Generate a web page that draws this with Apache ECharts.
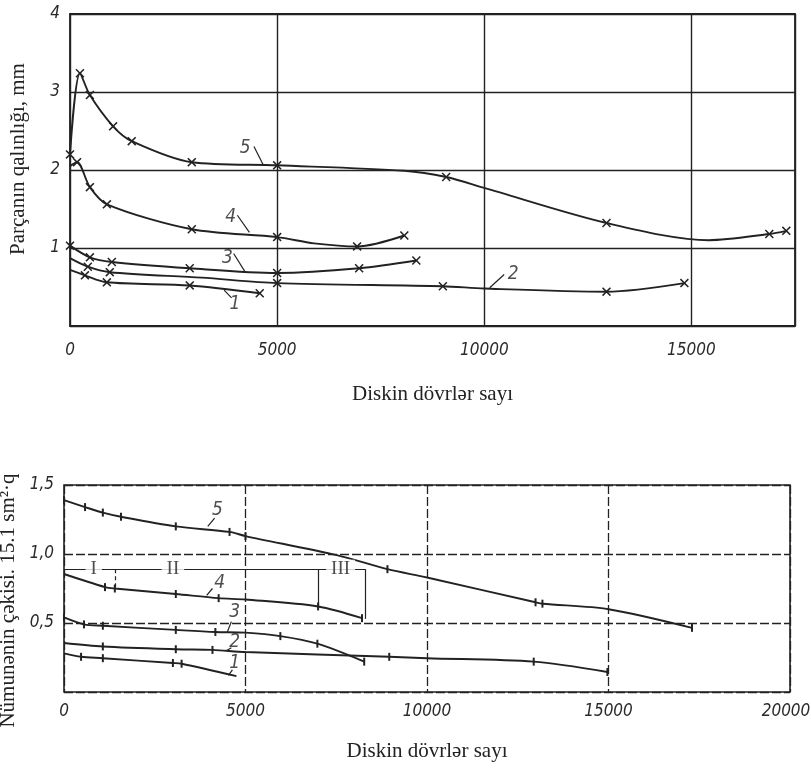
<!DOCTYPE html>
<html><head><meta charset="utf-8">
<script src="https://cdn.jsdelivr.net/npm/echarts@6/dist/echarts.min.js"></script>
<style>html,body{margin:0;padding:0;background:#fff}#c{width:811px;height:774px}</style>
</head><body><div id="c"></div>
<script>
// ---------- Top panel data (Parçanın qalınlığı, mm) ----------
const top5X = [0, 240, 480, 1040, 1490, 2940, 5000, 8070, 9080, 10000, 12950, 15420, 16880, 17290];
const top5Y = [2.2, 3.24, 2.96, 2.56, 2.37, 2.10, 2.06, 1.99, 1.91, 1.77, 1.32, 1.10, 1.18, 1.22];
const top5M = [1, 1, 1, 1, 1, 1, 1, 0, 1, 0, 1, 0, 1, 1];
const top4X = [0, 170, 480, 890, 2940, 5000, 5890, 6930, 8070];
const top4Y = [2.05, 2.1, 1.78, 1.56, 1.24, 1.14, 1.06, 1.02, 1.16];
const top4M = [0, 1, 1, 1, 1, 1, 0, 1, 1];
const top3X = [0, 480, 1010, 2890, 5000, 6980, 8360];
const top3Y = [1.03, 0.88, 0.82, 0.74, 0.68, 0.74, 0.84];
const top3M = [1, 1, 1, 1, 1, 1, 1];
const top2X = [0, 430, 960, 3180, 5000, 9000, 10000, 12950, 14830];
const top2Y = [0.87, 0.76, 0.69, 0.62, 0.55, 0.51, 0.48, 0.44, 0.55];
const top2M = [0, 1, 1, 0, 1, 1, 0, 1, 1];
const top1X = [0, 360, 890, 2890, 4580];
const top1Y = [0.72, 0.65, 0.56, 0.52, 0.42];
const top1M = [0, 1, 1, 1, 1];
const topXTicks = ['0', '5000', '10000', '15000'];
const topYTicks = ['1', '2', '3', '4'];
// curve number labels: [x, y, text] and leader [x1,y1,x2,y2]
const topLabels = [[4230, 2.28, '5'], [3880, 1.40, '4'], [3800, 0.87, '3'], [10700, 0.66, '2'], [3980, 0.28, '1']];
const topLeaders = [[4440, 2.30, 4660, 2.07], [4040, 1.42, 4330, 1.20], [3950, 0.93, 4230, 0.69], [10480, 0.66, 10130, 0.49], [3900, 0.36, 3720, 0.46]];

// ---------- Bottom panel data (Nümunənin çəkisi) ----------
const bot5X = [0, 580, 1070, 1570, 3080, 4560, 5000, 7540, 8910, 10000, 12990, 13180, 15000, 17300];
const bot5Y = [1.39, 1.34, 1.30, 1.27, 1.20, 1.16, 1.13, 0.99, 0.89, 0.83, 0.65, 0.64, 0.60, 0.465];
const bot5M = [1, 1, 1, 1, 1, 1, 1, 0, 1, 0, 1, 1, 0, 1];
const bot4X = [0, 1130, 1400, 3080, 4260, 5000, 7000, 8210];
const bot4Y = [0.855, 0.76, 0.75, 0.71, 0.68, 0.67, 0.62, 0.535];
const bot4M = [0, 1, 1, 1, 1, 0, 1, 1];
const bot3X = [0, 550, 1070, 3080, 4170, 5000, 5960, 6980, 8270];
const bot3Y = [0.54, 0.49, 0.48, 0.45, 0.435, 0.43, 0.405, 0.35, 0.22];
const bot3M = [1, 1, 1, 1, 1, 0, 1, 1, 1];
const bot2X = [0, 1070, 3080, 4090, 5000, 8960, 10000, 12940, 14970];
const bot2Y = [0.355, 0.33, 0.31, 0.305, 0.29, 0.255, 0.245, 0.22, 0.145];
const bot2M = [0, 1, 1, 1, 0, 1, 0, 1, 1];
const bot1X = [0, 470, 1070, 3000, 3240, 4750];
const bot1Y = [0.28, 0.255, 0.245, 0.21, 0.205, 0.115];
const bot1M = [0, 1, 1, 1, 1, 0];
const botXTicks = ['0', '5000', '10000', '15000', '20000'];
const botYTicks = ['0,5', '1,0', '1,5'];
const botLabels = [[4230, 1.32, '5'], [4290, 0.79, '4'], [4700, 0.58, '3'], [4700, 0.36, '2'], [4700, 0.21, '1']];
const botLeaders = [[4150, 1.26, 3960, 1.20], [4090, 0.75, 3930, 0.70], [4610, 0.51, 4500, 0.435], [4610, 0.32, 4480, 0.30], [4640, 0.16, 4530, 0.12]];
// stage brackets I, II, III
const stageY = 0.89;
const stageEndX = 8300;
const stageLabelX = [820, 3000, 7620];
const stageLabels = ['I', 'II', 'III'];
const stageDivX = [1400, 7000, 8300];
const stageDivY = [0.75, 0.62, 0.53];

// ---------- chart ----------
const INK = '#222';
const SYM_X = 'path://M0,1.2L1.2,0L5,3.8L8.8,0L10,1.2L6.2,5L10,8.8L8.8,10L5,6.2L1.2,10L0,8.8L3.8,5Z';
const SYM_T = 'path://M0,0H2V10H0Z';
const tickFont = {fontFamily: 'DejaVu Sans Condensed', fontStyle: 'italic', fontSize: 17, color: '#2a2a2a'};
const titleFont = {fontFamily: 'Liberation Serif', fontSize: 21, color: '#222'};

function mk(xs, ys, ms, sym) {
  return xs.map((x, i) => ({value: [x, ys[i]], symbol: ms[i] ? sym : 'none'}));
}
function curve(xs, ys, ms, sym, size, ai, leader) {
  return {
    type: 'line', xAxisIndex: ai, yAxisIndex: ai, smooth: 0.3,
    data: mk(xs, ys, ms, sym), symbolSize: size, symbolKeepAspect: false,
    itemStyle: {color: INK}, lineStyle: {color: INK, width: 1.9}, silent: true,
    markLine: {symbol: 'none', silent: true, label: {show: false},
      lineStyle: {color: INK, width: 1.2, type: 'solid'},
      data: [[{coord: [leader[0], leader[1]]}, {coord: [leader[2], leader[3]]}]]}
  };
}
function labelSeries(list, ai) {
  return {
    type: 'scatter', xAxisIndex: ai, yAxisIndex: ai, symbolSize: 0, silent: true,
    data: list.map(l => ({value: [l[0], l[1]], name: l[2]})),
    label: {show: true, position: 'inside', formatter: '{b}', fontFamily: 'DejaVu Sans Condensed',
      fontStyle: 'italic', fontSize: 19, color: '#222'}
  };
}

const topCurves = [[top5X, top5Y, top5M], [top4X, top4Y, top4M], [top3X, top3Y, top3M], [top2X, top2Y, top2M], [top1X, top1Y, top1M]];
const botCurves = [[bot5X, bot5Y, bot5M], [bot4X, bot4Y, bot4M], [bot3X, bot3Y, bot3M], [bot2X, bot2Y, bot2M], [bot1X, bot1Y, bot1M]];

const series = [];
topCurves.forEach((c, i) => series.push(curve(c[0], c[1], c[2], SYM_X, 9, 0, topLeaders[i])));
botCurves.forEach((c, i) => series.push(curve(c[0], c[1], c[2], SYM_T, [2, 8], 1, botLeaders[i])));
series.push(labelSeries(topLabels, 0));
series.push(labelSeries(botLabels, 1));

// stage bracket lines
const bracketLines = [[{coord: [0, stageY]}, {coord: [stageEndX, stageY]}]];
stageDivX.forEach((x, i) => bracketLines.push([{coord: [x, stageY]}, {coord: [x, stageDivY[i]], lineStyle: {type: i === 0 ? [4, 3] : 'solid'}}]));
series.push({
  type: 'scatter', xAxisIndex: 1, yAxisIndex: 1, symbolSize: 0, silent: true, z: 5,
  data: stageLabelX.map((x, i) => ({value: [x, stageY], name: stageLabels[i]})),
  label: {show: true, position: 'inside', formatter: '{b}', fontFamily: 'Liberation Serif',
    fontSize: 19, color: '#222', backgroundColor: '#fff', padding: [0, 5]},
  markLine: {symbol: 'none', silent: true, label: {show: false},
    lineStyle: {color: INK, width: 1.2, type: 'solid'}, data: bracketLines}
});

const chart = echarts.init(document.getElementById('c'), null, {renderer: 'canvas'});
chart.setOption({
  animation: false,
  backgroundColor: '#fff',
  grid: [
    {left: 70, top: 14, width: 725, height: 312, show: true, borderColor: INK, borderWidth: 1.8, backgroundColor: 'transparent', containLabel: false, outerBoundsMode: 'none'},
    {left: 64, top: 485, width: 726, height: 207, show: true, borderColor: INK, borderWidth: 1.6, backgroundColor: 'transparent', containLabel: false, outerBoundsMode: 'none'}
  ],
  xAxis: [
    {type: 'value', gridIndex: 0, min: 0, max: 17500, interval: 5000,
     axisLine: {show: false}, axisTick: {show: false},
     splitLine: {show: true, lineStyle: {color: INK, width: 1.4}},
     axisLabel: Object.assign({margin: 16, showMaxLabel: false, formatter: (v) => topXTicks[Math.round(v / 5000)] || ''}, tickFont),
     name: 'Diskin dövrlər sayı', nameLocation: 'middle', nameGap: 58, nameTextStyle: titleFont},
    {type: 'value', gridIndex: 1, min: 0, max: 20000, interval: 5000,
     axisLine: {show: false}, axisTick: {show: false},
     splitLine: {show: true, lineStyle: {color: INK, width: 1.3, type: [9, 3]}},
     axisLabel: Object.assign({margin: 11,
       formatter: (v) => { const i = Math.round(v / 5000); return i === botXTicks.length - 1 ? '{r|' + botXTicks[i] + '}' : (botXTicks[i] || ''); },
       rich: {r: {padding: [0, 8, 0, 0], fontFamily: 'DejaVu Sans Condensed', fontStyle: 'italic', fontSize: 17, color: '#2a2a2a'}}}, tickFont),
     name: 'Diskin dövrlər sayı', nameLocation: 'middle', nameGap: 49, nameTextStyle: titleFont}
  ],
  yAxis: [
    {type: 'value', gridIndex: 0, min: 0, max: 4, interval: 1,
     axisLine: {show: false}, axisTick: {show: false},
     splitLine: {show: true, lineStyle: {color: INK, width: 1.4}},
     axisLabel: Object.assign({margin: 10, showMinLabel: false, formatter: (v) => topYTicks[Math.round(v) - 1] || ''}, tickFont),
     name: 'Parçanın qalınlığı, mm', nameLocation: 'middle', nameGap: 41, nameRotate: 90,
     nameTextStyle: Object.assign({padding: [0, 0, 0, 22]}, titleFont)},
    {type: 'value', gridIndex: 1, min: 0, max: 1.5, interval: 0.5,
     axisLine: {show: false}, axisTick: {show: false},
     splitLine: {show: true, lineStyle: {color: INK, width: 1.3, type: [9, 3]}},
     axisLabel: Object.assign({margin: 10, showMinLabel: false, formatter: (v) => botYTicks[Math.round(v * 2) - 1] || ''}, tickFont),
     name: 'Nümunənin çəkisi. 15.1 sm²·q', nameLocation: 'middle', nameGap: 35, nameRotate: 90,
     nameTextStyle: Object.assign({padding: [0, 24, 0, 0]}, titleFont)}
  ],
  series: series
});
</script>
</body></html>
